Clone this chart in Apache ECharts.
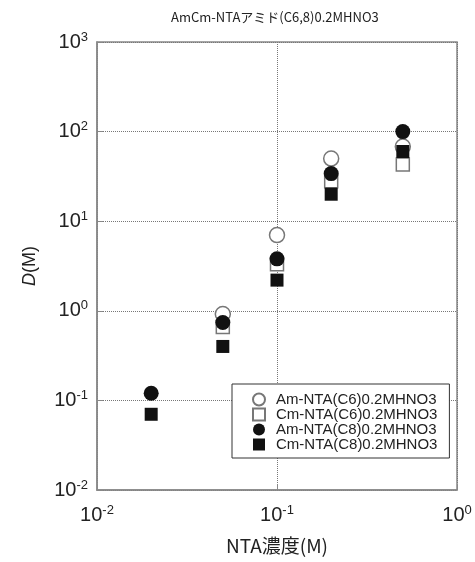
<!DOCTYPE html>
<html>
<head>
<meta charset="utf-8">
<script src="https://cdn.jsdelivr.net/npm/echarts@6/dist/echarts.min.js"></script>
<style>
  html, body { margin: 0; padding: 0; background: #fff; }
  #chart { width: 475px; height: 562px; }
</style>
</head>
<body>
<div id="chart"></div>
<script>
// NTA concentration (M)
const ntaConc = [0.02, 0.05, 0.1, 0.2, 0.5];
// distribution ratios D, null = not measured
const amC6 = [null, 0.92, 7.0, 50, 68];
const cmC6 = [null, 0.66, 3.3, 28, 43];
const amC8 = [0.12, 0.74, 3.8, 34, 100];
const cmC8 = [0.07, 0.40, 2.2, 20, 60];
const seriesNames = [
  "Am-NTA(C6)0.2MHNO3",
  "Cm-NTA(C6)0.2MHNO3",
  "Am-NTA(C8)0.2MHNO3",
  "Cm-NTA(C8)0.2MHNO3",
];

const pairs = (ys) =>
  ntaConc.map((x, i) => [x, ys[i]]).filter((p) => p[1] !== null);

const font = "Liberation Sans, Arial, sans-serif";
const powLabel = (v) => "{b|10}{s|" + Math.round(Math.log10(v)) + "}";
const powRich = {
  b: { fontSize: 20, color: "#222", fontFamily: font },
  s: { fontSize: 13, color: "#222", fontFamily: font, padding: [0, 0, 10, 0] },
};

const chart = echarts.init(document.getElementById("chart"));
const option = {
  backgroundColor: "#fff",
  animation: false,
  title: {
    text: "AmCm-NTAアミド(C6,8)0.2MHNO3",
    left: 166,
    top: 6,
    textStyle: {
      fontSize: 13,
      fontWeight: "normal",
      color: "#222",
      fontFamily: "Noto Sans CJK JP, sans-serif",
    },
  },
  grid: {
    left: 97,
    right: 18,
    top: 42,
    bottom: 72,
    show: true,
    borderColor: "#888",
    borderWidth: 1.5,
  },
  legend: {
    orient: "vertical",
    left: 232,
    top: 384,
    itemWidth: 12,
    itemHeight: 12,
    itemGap: 0,
    padding: [8, 12, 6, 20],
    backgroundColor: "#fff",
    borderColor: "#333",
    borderWidth: 1,
    borderRadius: 0,
    textStyle: {
      fontSize: 15,
      color: "#222",
      fontFamily: font,
      padding: [0, 0, 0, 6],
    },
    data: seriesNames,
  },
  xAxis: {
    type: "log",
    logBase: 10,
    min: 0.01,
    max: 1,
    name: "NTA濃度(M)",
    nameLocation: "middle",
    nameGap: 46,
    nameTextStyle: {
      fontSize: 19,
      color: "#222",
      fontFamily: "Noto Sans CJK JP, sans-serif",
    },
    axisLine: { lineStyle: { color: "#888", width: 1.5 } },
    axisTick: { inside: true, length: 6, lineStyle: { color: "#888" } },
    minorTick: { show: false },
    axisLabel: {
      margin: 14,
      formatter: powLabel,
      rich: powRich,
    },
    splitLine: {
      show: true,
      lineStyle: { color: "#777", type: "dotted", width: 1 },
    },
  },
  yAxis: {
    type: "log",
    logBase: 10,
    min: 0.01,
    max: 1000,
    name: "{i|D}(M)",
    nameLocation: "middle",
    nameGap: 58,
    nameRotate: 90,
    nameTextStyle: {
      fontSize: 18,
      color: "#222",
      fontFamily: font,
      rich: {
        i: { fontSize: 18, fontStyle: "italic", color: "#222", fontFamily: font },
      },
    },
    axisLine: { lineStyle: { color: "#888", width: 1.5 } },
    axisTick: { inside: true, length: 6, lineStyle: { color: "#888" } },
    minorTick: { show: false },
    axisLabel: {
      margin: 9,
      formatter: powLabel,
      rich: powRich,
    },
    splitLine: {
      show: true,
      lineStyle: { color: "#777", type: "dotted", width: 1 },
    },
  },
  series: [
    {
      name: seriesNames[0],
      type: "scatter",
      data: pairs(amC6),
      symbol: "circle",
      symbolSize: 15,
      itemStyle: { color: "#fff", borderColor: "#777", borderWidth: 1.5, opacity: 1 },
    },
    {
      name: seriesNames[1],
      type: "scatter",
      data: pairs(cmC6),
      symbol: "rect",
      symbolSize: 13,
      itemStyle: { color: "#fff", borderColor: "#777", borderWidth: 1.5, opacity: 1 },
    },
    {
      name: seriesNames[2],
      type: "scatter",
      data: pairs(amC8),
      symbol: "circle",
      symbolSize: 15,
      itemStyle: { color: "#111", opacity: 1 },
    },
    {
      name: seriesNames[3],
      type: "scatter",
      data: pairs(cmC8),
      symbol: "rect",
      symbolSize: 13,
      itemStyle: { color: "#111", opacity: 1 },
    },
  ],
};
chart.setOption(option);
</script>
</body>
</html>
